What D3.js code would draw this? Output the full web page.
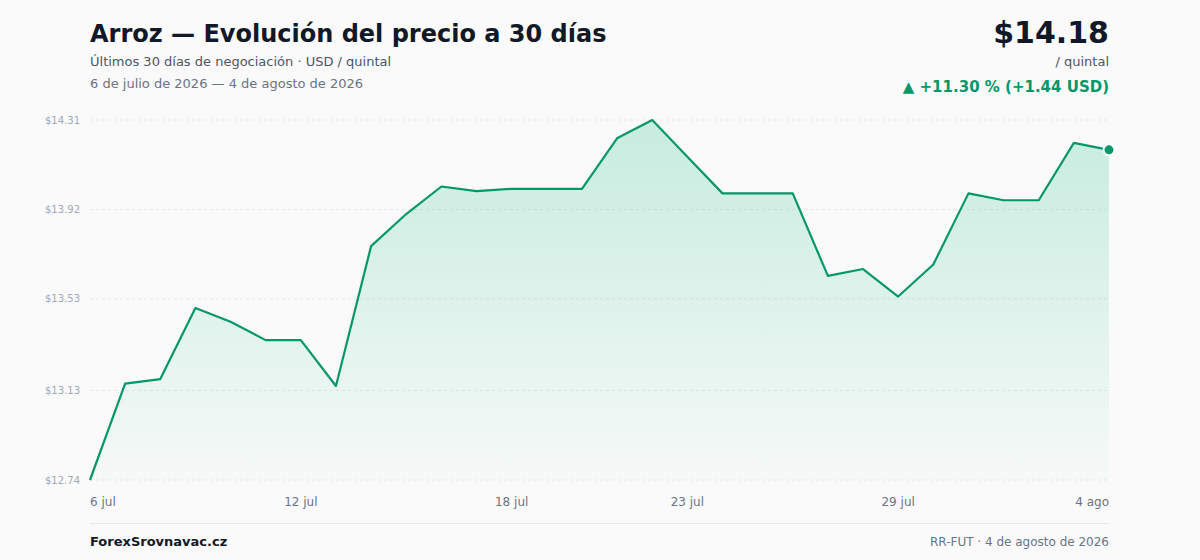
<!DOCTYPE html>
<html>
<head>
<meta charset="utf-8">
<script src="https://cdn.jsdelivr.net/npm/d3@7"></script>
<style>
	body { margin: 0; background: #fafafa; font-family: "DejaVu Sans", sans-serif; }
</style>
</head>
<body>
<div id="chart"></div>
<script>
// price per day, 6 jul - 4 ago 2026
const dates = ["2026-07-06","2026-07-07","2026-07-08","2026-07-09","2026-07-10","2026-07-11","2026-07-12","2026-07-13","2026-07-14","2026-07-15",
	"2026-07-16","2026-07-17","2026-07-18","2026-07-19","2026-07-20","2026-07-21","2026-07-22","2026-07-23","2026-07-24","2026-07-25",
	"2026-07-26","2026-07-27","2026-07-28","2026-07-29","2026-07-30","2026-07-31","2026-08-01","2026-08-02","2026-08-03","2026-08-04"];
const prices = [12.74, 13.16, 13.18, 13.49, 13.43, 13.35, 13.35, 13.15, 13.76, 13.90,
	14.02, 14.00, 14.01, 14.01, 14.01, 14.23, 14.31, 14.15, 13.99, 13.99,
	13.99, 13.63, 13.66, 13.54, 13.68, 13.99, 13.96, 13.96, 14.21, 14.18];
const yTicks = [12.74, 13.13, 13.53, 13.92, 14.31];
const xTickIdx = [0, 6, 12, 17, 23, 29];
const monthsEs = ["ene","feb","mar","abr","may","jun","jul","ago","sep","oct","nov","dic"];

let width = 1200, height = 560;
let margin = {top: 120, right: 91, bottom: 80, left: 90};
let green = "#059669";
let fillGreen = "#10b981";

let svg = d3.select("#chart").append("svg")
	.attr("width", width)
	.attr("height", height);

svg.append("rect").attr("width", width).attr("height", height).attr("fill", "#fafafa");

let data = dates.map(function(d, i) { return {date: d3.timeParse("%Y-%m-%d")(d), value: prices[i]}; });

let x = d3.scaleLinear().domain([0, data.length - 1]).range([margin.left, width - margin.right]);
let y = d3.scaleLinear().domain([d3.min(prices), d3.max(prices)]).range([height - margin.bottom, margin.top]);

//gradient for area
let grad = svg.append("defs").append("linearGradient")
	.attr("id", "fillGrad").attr("x1", 0).attr("y1", 0).attr("x2", 0).attr("y2", 1);
grad.append("stop").attr("offset", "0%").attr("stop-color", fillGreen).attr("stop-opacity", 0.22);
grad.append("stop").attr("offset", "100%").attr("stop-color", fillGreen).attr("stop-opacity", 0.02);

//grid lines + y labels
svg.append("g").selectAll("line")
	.data(yTicks).enter().append("line")
	.attr("x1", margin.left).attr("x2", width - margin.right)
	.attr("y1", function(d) { return y(d); }).attr("y2", function(d) { return y(d); })
	.attr("stroke", "#e6e8ec").attr("stroke-dasharray", "3,3");

svg.append("g").selectAll("text")
	.data(yTicks).enter().append("text")
	.attr("x", margin.left - 10)
	.attr("y", function(d) { return y(d); })
	.attr("dy", "0.35em")
	.attr("text-anchor", "end")
	.attr("font-size", "10px")
	.attr("fill", "#a0a9b8")
	.text(function(d) { return "$" + d.toFixed(2); });

//area + line
let area = d3.area()
	.x(function(d, i) { return x(i); })
	.y0(height - margin.bottom)
	.y1(function(d) { return y(d.value); });

let line = d3.line()
	.x(function(d, i) { return x(i); })
	.y(function(d) { return y(d.value); });

svg.append("path").datum(data).attr("d", area).attr("fill", "url(#fillGrad)");
svg.append("path").datum(data).attr("d", line)
	.attr("fill", "none").attr("stroke", green).attr("stroke-width", 2.2).attr("stroke-linejoin", "round");

let last = data.length - 1;
svg.append("circle")
	.attr("cx", x(last)).attr("cy", y(prices[last])).attr("r", 5.5)
	.attr("fill", green).attr("stroke", "#fff").attr("stroke-width", 2);

//x labels
svg.append("g").selectAll("text")
	.data(xTickIdx).enter().append("text")
	.attr("x", function(i) { return x(i); })
	.attr("y", height - margin.bottom + 26)
	.attr("text-anchor", function(i) { return i == 0 ? "start" : (i == last ? "end" : "middle"); })
	.attr("font-size", "12px")
	.attr("fill", "#6b7384")
	.text(function(i) { let d = data[i].date; return d.getDate() + " " + monthsEs[d.getMonth()]; });

//header
svg.append("text").attr("x", 90).attr("y", 42)
	.attr("font-size", "24px").attr("font-weight", "bold").attr("fill", "#111827")
	.text("Arroz — Evolución del precio a 30 días");
svg.append("text").attr("x", 90).attr("y", 66)
	.attr("font-size", "13px").attr("fill", "#4b5563")
	.text("Últimos 30 días de negociación · USD / quintal");
svg.append("text").attr("x", 90).attr("y", 88)
	.attr("font-size", "13px").attr("fill", "#6b7384")
	.text("6 de julio de 2026 — 4 de agosto de 2026");

let first = prices[0], lastVal = prices[last];
let diff = lastVal - first, pct = diff / first * 100;

svg.append("text").attr("x", 1109).attr("y", 43)
	.attr("text-anchor", "end").attr("font-size", "30px").attr("font-weight", "bold").attr("fill", "#111827")
	.text("$" + lastVal.toFixed(2));
svg.append("text").attr("x", 1109).attr("y", 66)
	.attr("text-anchor", "end").attr("font-size", "13px").attr("fill", "#4b5563")
	.text("/ quintal");
svg.append("text").attr("x", 1109).attr("y", 92)
	.attr("text-anchor", "end").attr("font-size", "15px").attr("font-weight", "bold").attr("fill", green)
	.text("▲ +" + pct.toFixed(2) + " % (+" + diff.toFixed(2) + " USD)");

//footer
svg.append("line").attr("x1", 90).attr("x2", 1109).attr("y1", 523.5).attr("y2", 523.5)
	.attr("stroke", "#e5e7eb").attr("stroke-width", 1);
svg.append("text").attr("x", 90).attr("y", 546)
	.attr("font-size", "13px").attr("font-weight", "bold").attr("fill", "#111827")
	.text("ForexSrovnavac.cz");
svg.append("text").attr("x", 1109).attr("y", 546)
	.attr("text-anchor", "end").attr("font-size", "12px").attr("fill", "#6b7384")
	.text("RR-FUT · 4 de agosto de 2026");
</script>
</body>
</html>
